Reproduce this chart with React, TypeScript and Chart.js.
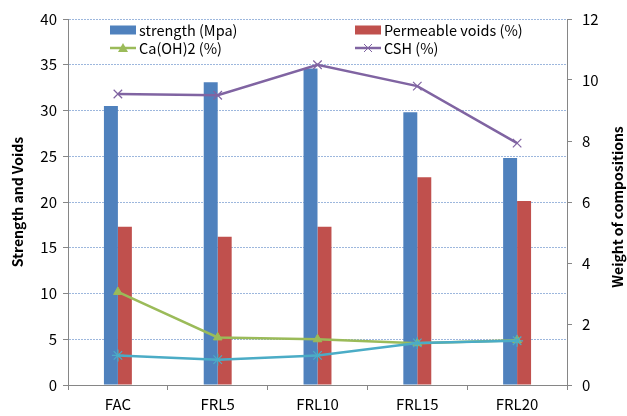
import React, { useEffect, useRef } from 'react';
import { Chart, registerables } from 'chart.js';
Chart.register(...registerables);

const categories = ['FAC', 'FRL5', 'FRL10', 'FRL15', 'FRL20'];
const strength = [30.5, 33.1, 34.6, 29.8, 24.8];
const voids = [17.3, 16.2, 17.3, 22.7, 20.1];
const caoh2 = [3.05, 1.56, 1.5, 1.37, 1.47];
const csh = [9.54, 9.5, 10.5, 9.8, 7.93];
const other = [0.97, 0.83, 0.97, 1.38, 1.45];

const labels = ['strength (Mpa)', 'Permeable voids (%)', 'Ca(OH)2 (%)', 'CSH (%)', ''];
const leftTitle = 'Strength and Voids';
const rightTitle = 'Weight of compositions';

const FONT = '"Noto Sans CJK KR", "Noto Sans", sans-serif';
const BLUE = '#4f81bd';
const RED = '#c0504d';
const GREEN = '#9bbb59';
const PURPLE = '#8064a2';
const CYAN = '#4bacc6';
const AXIS = '#868686';

const legendPlugin = {
  id: 'customLegend',
  afterDraw(chart: any) {
    const { ctx, chartArea } = chart;
    const ds = chart.data.datasets;
    const cols = [chartArea.left + 42, chartArea.left + 287];
    const rows = [chartArea.top + 11, chartArea.top + 29];
    const entries = [
      { i: 0, c: 0, r: 0 },
      { i: 1, c: 1, r: 0 },
      { i: 2, c: 0, r: 1 },
      { i: 3, c: 1, r: 1 },
    ];
    ctx.save();
    ctx.font = `14.5px ${FONT}`;
    ctx.textBaseline = 'middle';
    ctx.fillStyle = '#000';
    for (const e of entries) {
      const d = ds[e.i];
      const x = cols[e.c];
      const y = rows[e.r];
      if (d.type === 'bar') {
        ctx.fillStyle = d.backgroundColor;
        ctx.fillRect(x, y - 4.5, 26, 9);
      } else {
        ctx.strokeStyle = d.borderColor;
        ctx.lineWidth = 2.5;
        ctx.beginPath();
        ctx.moveTo(x, y);
        ctx.lineTo(x + 26, y);
        ctx.stroke();
        const cx = x + 13;
        if (d.pointStyle === 'triangle') {
          ctx.fillStyle = d.borderColor;
          ctx.beginPath();
          ctx.moveTo(cx, y - 5);
          ctx.lineTo(cx + 5, y + 4);
          ctx.lineTo(cx - 5, y + 4);
          ctx.closePath();
          ctx.fill();
        } else {
          ctx.lineWidth = 1;
          ctx.beginPath();
          ctx.moveTo(cx - 4, y - 4);
          ctx.lineTo(cx + 4, y + 4);
          ctx.moveTo(cx + 4, y - 4);
          ctx.lineTo(cx - 4, y + 4);
          ctx.stroke();
        }
      }
      ctx.fillStyle = '#000';
      ctx.fillText(d.label, x + 29, y);
    }
    // right axis title, reading bottom to top
    ctx.font = `bold 14px ${FONT}`;
    ctx.textAlign = 'center';
    ctx.textBaseline = 'middle';
    ctx.translate(618, (chartArea.top + chartArea.bottom) / 2 + 5);
    ctx.rotate(-Math.PI / 2);
    ctx.fillText(rightTitle, 0, 0);
    ctx.restore();
  },
};

export default function App() {
  const ref = useRef<HTMLCanvasElement>(null);
  useEffect(() => {
    const chart = new Chart(ref.current!, {
      type: 'bar',
      data: {
        labels: categories,
        datasets: [
          { type: 'bar', label: labels[0], data: strength, backgroundColor: BLUE, yAxisID: 'y', order: 2, categoryPercentage: 0.28, barPercentage: 1 },
          { type: 'bar', label: labels[1], data: voids, backgroundColor: RED, yAxisID: 'y', order: 2, categoryPercentage: 0.28, barPercentage: 1 },
          { type: 'line', label: labels[2], data: caoh2, borderColor: GREEN, backgroundColor: GREEN, borderWidth: 2.5, pointStyle: 'triangle', pointRadius: 5, pointBorderWidth: 1, yAxisID: 'y1', order: 1, tension: 0 },
          { type: 'line', label: labels[3], data: csh, borderColor: PURPLE, backgroundColor: PURPLE, borderWidth: 2.5, pointStyle: 'crossRot', pointRadius: 6, pointBorderWidth: 1.2, yAxisID: 'y1', order: 1, tension: 0 },
          { type: 'line', label: labels[4], data: other, borderColor: CYAN, backgroundColor: CYAN, borderWidth: 2.5, pointStyle: 'star', pointRadius: 6, pointBorderWidth: 1.2, yAxisID: 'y1', order: 0, tension: 0 },
        ] as any,
      },
      options: {
        animation: false,
        responsive: true,
        maintainAspectRatio: false,
        layout: { padding: { top: 13, left: 0, right: 0, bottom: 0 } },
        plugins: { legend: { display: false }, tooltip: { enabled: false } },
        scales: {
          x: {
            afterFit: (s: any) => { s.height = 31; },
            grid: { drawOnChartArea: false, offset: true, tickLength: 5, color: AXIS },
            border: { color: AXIS },
            ticks: { color: '#000', font: { family: FONT, size: 15 }, padding: 5 },
          },
          y: {
            position: 'left',
            min: 0,
            max: 40,
            afterFit: (s: any) => { s.width = 68; },
            ticks: { stepSize: 5, color: '#000', font: { family: FONT, size: 15 }, padding: 6 },
            grid: { display: true, drawOnChartArea: true, lineWidth: 1, color: '#9db7dd', tickColor: AXIS, tickLength: 5, tickBorderDash: [] },
            border: { color: AXIS, dash: [2, 1] },
            title: { display: true, text: leftTitle, color: '#000', font: { family: FONT, size: 14, weight: 'bold' }, padding: { top: 9, bottom: 0 } },
          },
          y1: {
            position: 'right',
            min: 0,
            max: 12,
            afterFit: (s: any) => { s.width = 60; },
            ticks: { stepSize: 2, color: '#000', font: { family: FONT, size: 15 }, padding: 10 },
            grid: { drawOnChartArea: false, color: AXIS, tickLength: 5 },
            border: { color: AXIS },
          },
        },
      } as any,
      plugins: [legendPlugin],
    });
    return () => chart.destroy();
  }, []);
  return (
    <div style={{ position: 'fixed', left: 0, top: 0, width: 627, height: 416, background: '#fff' }}>
      <canvas ref={ref} />
    </div>
  );
}
